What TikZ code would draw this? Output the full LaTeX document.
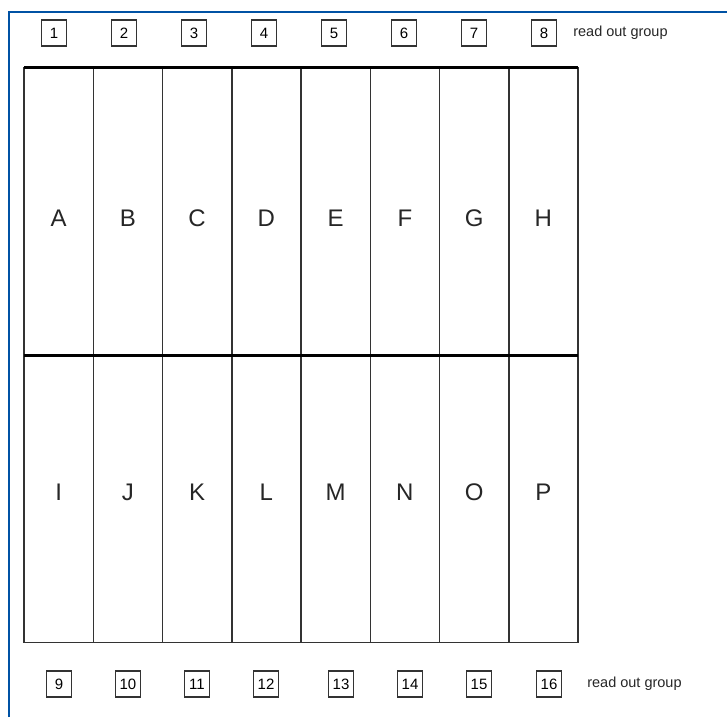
\documentclass[tikz,border=0pt]{standalone}
\usepackage{fontspec}
\setmainfont{Liberation Sans}
\usetikzlibrary{positioning}
\definecolor{frameblue}{RGB}{0,82,164}

\begin{document}
\begin{tikzpicture}[
    x=1pt, y=-1pt,
    cell/.style={rectangle, draw=black!80, line width=1.5pt, minimum width=69.25pt, minimum height=287.5pt, inner sep=0pt, outer sep=0pt},
    letter/.style={font=\fontsize{24}{24}\selectfont, inner sep=0pt, text=black!85},
    numbox/.style={rectangle, draw=black!80, line width=1.2pt, minimum width=25pt, minimum height=26pt, inner sep=0pt, font=\fontsize{15}{15}\selectfont},
    grouplabel/.style={font=\fontsize{14.5}{15}\selectfont, inner sep=0pt, text=black!85},
    divider/.style={line width=3pt, black},
]
\useasboundingbox (0,0) rectangle (727,717);

% ======== FRAME ========
\draw[frameblue, line width=2.2pt] (9,717) -- (9,12) -- (727,12);

% ======== READ OUT GROUPS (top) ========
\foreach \px [count=\i] in {54,124,194,264,334,404,474,544}
  \node[numbox] (n\i) at (\px,33) {\i};
\node[grouplabel, right=16pt of n8] (toplabel) {read out group};

% ======== CELLS ========
\foreach \l [count=\i] in {A,B,C,D,E,F,G,H} {
  \node[cell] (top\i) at ({24+69.25*(\i-0.5)},211.25) {};
  \node[letter] (\l) at ({24+69.25*(\i-0.5)},218) {\l};
}
\foreach \l [count=\i] in {I,J,K,L,M,N,O,P} {
  \node[cell] (bot\i) at ({24+69.25*(\i-0.5)},498.75) {};
  \node[letter] (\l) at ({24+69.25*(\i-0.5)},492) {\l};
}

% thick dividers
\draw[divider] (top1.north west) -- (top8.north east);
\draw[divider] (top1.south west) -- (top8.south east);

% ======== READ OUT GROUPS (bottom) ========
\foreach \px [count=\i from 9] in {59,128,197,266,341,410,479,549}
  \node[numbox] (n\i) at (\px,684) {\i};
\node[grouplabel, right=25pt of n16] (botlabel) {read out group};

\end{tikzpicture}
\end{document}
